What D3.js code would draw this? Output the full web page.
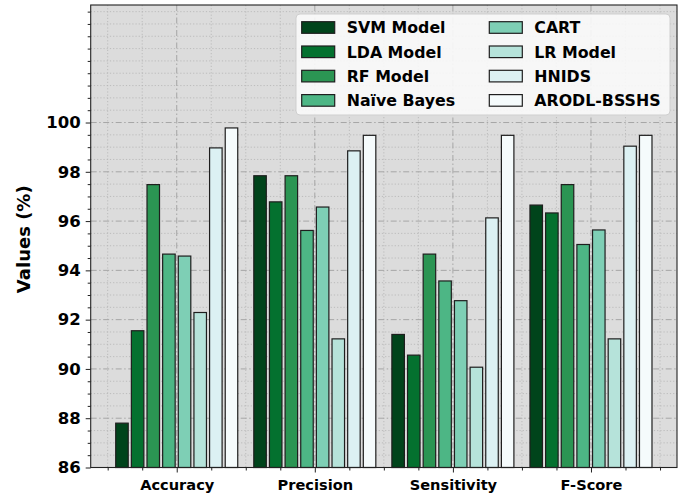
<!DOCTYPE html>
<html>
<head>
<meta charset="utf-8">
<script src="https://cdn.jsdelivr.net/npm/d3@7"></script>
<style>
  html, body { margin: 0; padding: 0; background: #ffffff; }
  svg { display: block; font-family: "DejaVu Sans", sans-serif; }
</style>
</head>
<body>
<svg id="chart" width="683" height="495"></svg>
<script>
// Metrics on the x axis
const categories = ["Accuracy", "Precision", "Sensitivity", "F-Score"];

// Model names (legend order)
const models = ["SVM Model", "LDA Model", "RF Model", "Naïve Bayes", "CART", "LR Model", "HNIDS", "ARODL-BSSHS"];

// Scores (%) for each model, one value per metric
const svmValues    = [87.80, 97.84, 91.40, 96.65];
const ldaValues    = [91.55, 96.78, 90.56, 96.33];
const rfValues     = [97.48, 97.84, 94.66, 97.48];
const nbValues     = [94.66, 95.62, 93.57, 95.05];
const cartValues   = [94.58, 96.57, 92.77, 95.64];
const lrValues     = [92.29, 91.22, 90.07, 91.22];
const hnidsValues  = [98.97, 98.85, 96.13, 99.04];
const arodlValues  = [99.78, 99.48, 99.48, 99.48];

// Y axis tick labels
const yTicks = [86, 88, 90, 92, 94, 96, 98, 100];

const seriesValues = [svmValues, ldaValues, rfValues, nbValues, cartValues, lrValues, hnidsValues, arodlValues];
const colors = ["#00441b", "#04712f", "#2b9553", "#4db685", "#7ecfb5", "#b6e3da", "#dcf1f3", "#f5fbfc"];

const svg = d3.select("#chart");
const plot = { left: 90.7, right: 677, top: 5, bottom: 467.5 };

const yMax = d3.max(seriesValues.flat()) * 1.05;
const y = d3.scaleLinear().domain([86, yMax]).range([plot.bottom, plot.top]);
const x = d3.scaleLinear().domain([-0.623, categories.length - 1 + 0.623]).range([plot.left, plot.right]);

const barStep = 0.1133;   // distance between neighbouring bars, in category units
const barWidth = 0.0906;  // bar width, in category units

// Plot background
svg.append("rect")
  .attr("x", plot.left).attr("y", plot.top)
  .attr("width", plot.right - plot.left).attr("height", plot.bottom - plot.top)
  .attr("fill", "#dcdcdc");

const clip = svg.append("defs").append("clipPath").attr("id", "plotclip");
clip.append("rect")
  .attr("x", plot.left).attr("y", plot.top)
  .attr("width", plot.right - plot.left).attr("height", plot.bottom - plot.top);

const grid = svg.append("g").attr("clip-path", "url(#plotclip)");

// Minor grid (dotted)
const yMinorTicks = d3.range(86.5, yMax, 0.5).filter(v => yTicks.indexOf(v) < 0);
const xMinor = d3.range(-0.5, categories.length, 0.25).filter(v => Math.abs(v - Math.round(v)) > 1e-6);

grid.selectAll(".ymin").data(yMinorTicks).join("line")
  .attr("x1", plot.left).attr("x2", plot.right)
  .attr("y1", d => y(d)).attr("y2", d => y(d))
  .attr("stroke", "#b4b4b4").attr("stroke-width", 0.8).attr("stroke-dasharray", "1.2,2");
grid.selectAll(".xmin").data(xMinor).join("line")
  .attr("y1", plot.top).attr("y2", plot.bottom)
  .attr("x1", d => x(d)).attr("x2", d => x(d))
  .attr("stroke", "#b4b4b4").attr("stroke-width", 0.8).attr("stroke-dasharray", "1.2,2");

// Major grid (dash-dot)
grid.selectAll(".ymaj").data(yTicks).join("line")
  .attr("x1", plot.left).attr("x2", plot.right)
  .attr("y1", d => y(d)).attr("y2", d => y(d))
  .attr("stroke", "#a6a6a6").attr("stroke-width", 1).attr("stroke-dasharray", "6,2.5,1.5,2.5");
grid.selectAll(".xmaj").data(d3.range(categories.length)).join("line")
  .attr("y1", plot.top).attr("y2", plot.bottom)
  .attr("x1", d => x(d)).attr("x2", d => x(d))
  .attr("stroke", "#a6a6a6").attr("stroke-width", 1).attr("stroke-dasharray", "6,2.5,1.5,2.5");

// Bars
const bars = svg.append("g");
seriesValues.forEach((vals, si) => {
  bars.selectAll(null).data(vals).join("rect")
    .attr("x", (d, ci) => x(ci + (si - 3.5) * barStep - barWidth / 2))
    .attr("width", x(barWidth) - x(0))
    .attr("y", d => y(d))
    .attr("height", d => y(86) - y(d))
    .attr("fill", colors[si])
    .attr("stroke", "#1e1e1e")
    .attr("stroke-width", 1.2);
});

// Frame
svg.append("rect")
  .attr("x", plot.left).attr("y", plot.top)
  .attr("width", plot.right - plot.left).attr("height", plot.bottom - plot.top)
  .attr("fill", "none").attr("stroke", "#222").attr("stroke-width", 1.1);

// Y axis
const yAxis = d3.axisLeft(y).tickValues(yTicks).tickSize(5).tickPadding(5).tickFormat(d3.format("d"));
const yAxisG = svg.append("g").attr("transform", `translate(${plot.left},0)`).call(yAxis);
yAxisG.select(".domain").remove();
yAxisG.selectAll("text").attr("font-size", "16.5px").attr("font-weight", "bold").attr("fill", "#000")
  .attr("font-family", "DejaVu Sans");
yAxisG.selectAll("line").attr("stroke", "#222");

const yMinorAxis = d3.axisLeft(y).tickValues(yMinorTicks).tickSize(3).tickFormat("");
const yMinorG = svg.append("g").attr("transform", `translate(${plot.left},0)`).call(yMinorAxis);
yMinorG.select(".domain").remove();
yMinorG.selectAll("line").attr("stroke", "#222");

// X axis
const xAxis = d3.axisBottom(x).tickValues(d3.range(categories.length)).tickSize(5).tickPadding(7)
  .tickFormat(i => categories[i]);
const xAxisG = svg.append("g").attr("transform", `translate(0,${plot.bottom})`).call(xAxis);
xAxisG.select(".domain").remove();
xAxisG.selectAll("text").attr("font-size", "14.6px").attr("font-weight", "bold").attr("fill", "#000")
  .attr("font-family", "DejaVu Sans");
xAxisG.selectAll("line").attr("stroke", "#222");

const xMinorAxis = d3.axisBottom(x).tickValues(xMinor).tickSize(3).tickFormat("");
const xMinorG = svg.append("g").attr("transform", `translate(0,${plot.bottom})`).call(xMinorAxis);
xMinorG.select(".domain").remove();
xMinorG.selectAll("line").attr("stroke", "#222");

// Y axis title
svg.append("text")
  .attr("transform", `translate(30,${(plot.top + plot.bottom) / 2 + 3}) rotate(-90)`)
  .attr("text-anchor", "middle")
  .attr("font-size", "18px").attr("font-weight", "bold").attr("fill", "#000")
  .text("Values (%)");

// Legend
const legend = svg.append("g");
legend.append("rect")
  .attr("x", 296).attr("y", 14).attr("width", 374).attr("height", 101)
  .attr("rx", 4).attr("ry", 4)
  .attr("fill", "#f8f8f8").attr("fill-opacity", 0.92)
  .attr("stroke", "#cfcfcf").attr("stroke-width", 1);

const legendCols = [301.7, 489.3];
const legendRows = [27.5, 51.8, 76.1, 100.4];
models.forEach((name, i) => {
  const col = Math.floor(i / 4), row = i % 4;
  const g = legend.append("g").attr("transform", `translate(${legendCols[col]},${legendRows[row]})`);
  g.append("rect")
    .attr("x", 0).attr("y", -5.8).attr("width", 33).attr("height", 11.6)
    .attr("fill", colors[i]).attr("stroke", "#1e1e1e").attr("stroke-width", 1.2);
  g.append("text")
    .attr("x", 45).attr("y", 0).attr("dy", "0.36em")
    .attr("font-size", "15.8px").attr("font-weight", "bold").attr("fill", "#000")
    .text(name);
});
</script>
</body>
</html>
